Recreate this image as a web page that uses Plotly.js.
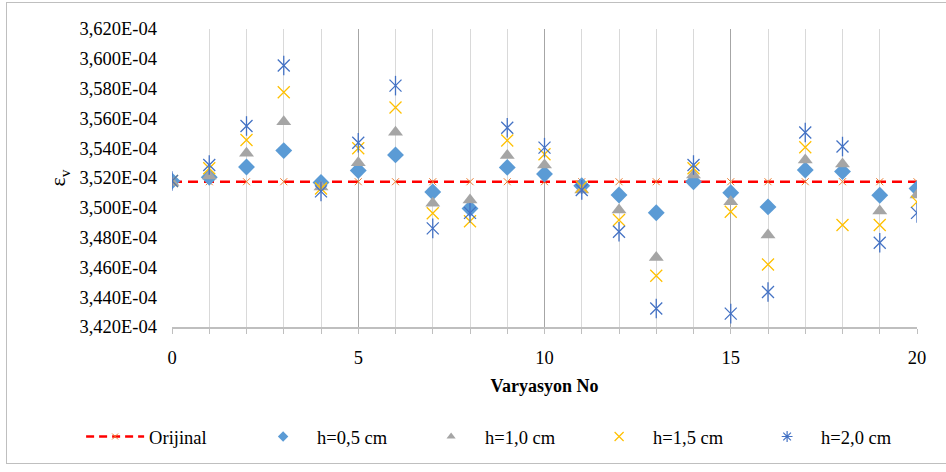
<!DOCTYPE html>
<html>
<head>
<meta charset="utf-8">
<script src="https://cdn.plot.ly/plotly-3.0.1.min.js"></script>
<style>
  html, body { margin: 0; padding: 0; background: #fff; }
  #chart { width: 946px; height: 472px; }
  #frame { position: absolute; left: 6px; top: 2px; width: 946px; height: 460px; border: 1px solid #BFBFBF; pointer-events: none; }
</style>
</head>
<body>
<div id="chart"></div>
<div id="frame"></div>
<script>
var variations = [0,1,2,3,4,5,6,7,8,9,10,11,12,13,14,15,16,17,18,19,20];
var orijinal = [3.5175e-4,3.5175e-4,3.5175e-4,3.5175e-4,3.5175e-4,3.5175e-4,3.5175e-4,3.5175e-4,3.5175e-4,3.5175e-4,3.5175e-4,3.5175e-4,3.5175e-4,3.5175e-4,3.5175e-4,3.5175e-4,3.5175e-4,3.5175e-4,3.5175e-4,3.5175e-4,3.5175e-4];
var h05 = [3.5180e-4,3.5205e-4,3.5274e-4,3.5384e-4,3.5170e-4,3.5250e-4,3.5355e-4,3.5106e-4,3.4995e-4,3.5271e-4,3.5227e-4,3.5148e-4,3.5086e-4,3.4967e-4,3.5175e-4,3.5101e-4,3.5006e-4,3.5254e-4,3.5243e-4,3.5084e-4,3.5129e-4];
var h10 = [3.5169e-4,3.5213e-4,3.5366e-4,3.5578e-4,3.5140e-4,3.5303e-4,3.5507e-4,3.5030e-4,3.5052e-4,3.5351e-4,3.5287e-4,3.5119e-4,3.4985e-4,3.4667e-4,3.5220e-4,3.5040e-4,3.4817e-4,3.5321e-4,3.5294e-4,3.4979e-4,3.5086e-4];
var h15 = [3.5180e-4,3.5265e-4,3.5455e-4,3.5776e-4,3.5130e-4,3.5400e-4,3.5673e-4,3.4963e-4,3.4910e-4,3.5452e-4,3.5359e-4,3.5142e-4,3.4918e-4,3.4544e-4,3.5265e-4,3.4973e-4,3.4620e-4,3.5406e-4,3.4884e-4,3.4884e-4,3.5040e-4];
var h20 = [3.5180e-4,3.5287e-4,3.5549e-4,3.5955e-4,3.5110e-4,3.5437e-4,3.5820e-4,3.4862e-4,3.4966e-4,3.5537e-4,3.5404e-4,3.5120e-4,3.4839e-4,3.4324e-4,3.5287e-4,3.4290e-4,3.4435e-4,3.5505e-4,3.5411e-4,3.4765e-4,3.4966e-4];
var yTickVals = [3.42e-4,3.44e-4,3.46e-4,3.48e-4,3.50e-4,3.52e-4,3.54e-4,3.56e-4,3.58e-4,3.60e-4,3.62e-4];
var yTickText = ['3,420E-04','3,440E-04','3,460E-04','3,480E-04','3,500E-04','3,520E-04','3,540E-04','3,560E-04','3,580E-04','3,600E-04','3,620E-04'];
var xTickVals = [0,5,10,15,20];
var xTickText = ['0','5','10','15','20'];
var seriesNames = ['Orijinal','h=0,5 cm','h=1,0 cm','h=1,5 cm','h=2,0 cm'];

var FONT = 'Liberation Serif, Times New Roman, serif';

var traces = [
  // data traces (legend drawn by proxies below, with small legend symbols as in the reference)
  { x: variations, y: orijinal, name: seriesNames[0], type: 'scatter', mode: 'lines+markers', showlegend: false, legendgroup: 'g0',
    line: { color: '#FF0000', width: 2.5, dash: '10px,6px' },
    marker: { symbol: 'x-thin-open', size: 7, color: '#ED7D31', line: { color: '#ED7D31', width: 1 } } },
  { x: variations, y: h05, name: seriesNames[1], type: 'scatter', mode: 'markers', showlegend: false, legendgroup: 'g1',
    marker: { symbol: 'diamond', size: 13, color: '#5B9BD5', line: { width: 0 } } },
  { x: variations, y: h10, name: seriesNames[2], type: 'scatter', mode: 'markers', showlegend: false, legendgroup: 'g2',
    marker: { symbol: 'triangle-up', size: 13, color: '#A5A5A5', line: { width: 0 } } },
  { x: variations, y: h15, name: seriesNames[3], type: 'scatter', mode: 'markers', showlegend: false, legendgroup: 'g3',
    marker: { symbol: 'x-thin-open', size: 12, color: '#FFC000', line: { color: '#FFC000', width: 1.3 } } },
  { x: variations, y: h20, name: seriesNames[4], type: 'scatter', mode: 'markers', showlegend: false, legendgroup: 'g4',
    marker: { symbol: 'x-thin-open', size: 12, color: '#4472C4', line: { color: '#4472C4', width: 1.3 } } },
  { x: variations, y: h20, name: seriesNames[4], type: 'scatter', mode: 'markers', showlegend: false, legendgroup: 'g4',
    marker: { symbol: 'line-ns-open', size: 14, color: '#4472C4', line: { color: '#4472C4', width: 1.3 } } },
  // legend proxies
  { x: [null], y: [null], name: seriesNames[0], type: 'scatter', mode: 'lines+markers', legendgroup: 'g0',
    line: { color: '#FF0000', width: 2.5, dash: '8px,5px' },
    marker: { symbol: 'x-thin-open', size: 6, color: '#ED7D31', line: { color: '#ED7D31', width: 1 } } },
  { x: [null], y: [null], name: seriesNames[1], type: 'scatter', mode: 'markers', legendgroup: 'g1',
    marker: { symbol: 'diamond', size: 8, color: '#5B9BD5', line: { width: 0 } } },
  { x: [null], y: [null], name: seriesNames[2], type: 'scatter', mode: 'markers', legendgroup: 'g2',
    marker: { symbol: 'triangle-up', size: 8, color: '#A5A5A5', line: { width: 0 } } },
  { x: [null], y: [null], name: seriesNames[3], type: 'scatter', mode: 'markers', legendgroup: 'g3',
    marker: { symbol: 'x-thin-open', size: 9, color: '#FFC000', line: { color: '#FFC000', width: 1.2 } } },
  { x: [null], y: [null], name: seriesNames[4], type: 'scatter', mode: 'markers', legendgroup: 'g4',
    marker: { symbol: 'asterisk-open', size: 9, color: '#4472C4', line: { color: '#4472C4', width: 1.2 } } }
];

var layout = {
  width: 946, height: 472,
  margin: { l: 172, r: 29, t: 29, b: 145, autoexpand: false },
  paper_bgcolor: '#ffffff', plot_bgcolor: '#ffffff',
  font: { family: FONT, size: 18, color: '#000000' },
  showlegend: true,
  xaxis: {
    range: [0, 20], tickvals: xTickVals, ticktext: xTickText,
    showgrid: true, gridcolor: '#A6A6A6', gridwidth: 1,
    minor: { dtick: 1, showgrid: true, gridcolor: '#D9D9D9', gridwidth: 1, ticks: 'outside', ticklen: 5, tickcolor: '#BFBFBF' },
    zeroline: false, showline: true, linecolor: '#BFBFBF', linewidth: 1.5,
    ticks: 'outside', ticklen: 5, tickcolor: '#BFBFBF', ticklabelstandoff: 8,
    tickfont: { family: FONT, size: 18.5, color: '#000' },
    title: { text: 'Varyasyon No', font: { family: FONT, size: 18, color: '#000', weight: 'bold' }, standoff: 12 },
    fixedrange: true
  },
  yaxis: {
    range: [3.42e-4, 3.62e-4], tickvals: yTickVals, ticktext: yTickText,
    showgrid: false, zeroline: false, showline: false,
    ticks: '', ticklabelstandoff: 14,
    tickfont: { family: FONT, size: 18.5, color: '#000' },
    title: { text: 'ε<sub>v</sub>', font: { family: FONT, size: 22, color: '#000' }, standoff: 7 },
    fixedrange: true
  },
  legend: {
    orientation: 'h', x: -0.122, xanchor: 'left', y: -0.369, yanchor: 'middle',
    font: { family: FONT, size: 18.5, color: '#000' },
    itemwidth: 58, entrywidth: 95, entrywidthmode: 'pixels',
    bgcolor: 'rgba(0,0,0,0)', traceorder: 'normal', itemclick: false, itemdoubleclick: false
  }
};

Plotly.newPlot('chart', traces, layout, { displayModeBar: false, staticPlot: true });
</script>
</body>
</html>
